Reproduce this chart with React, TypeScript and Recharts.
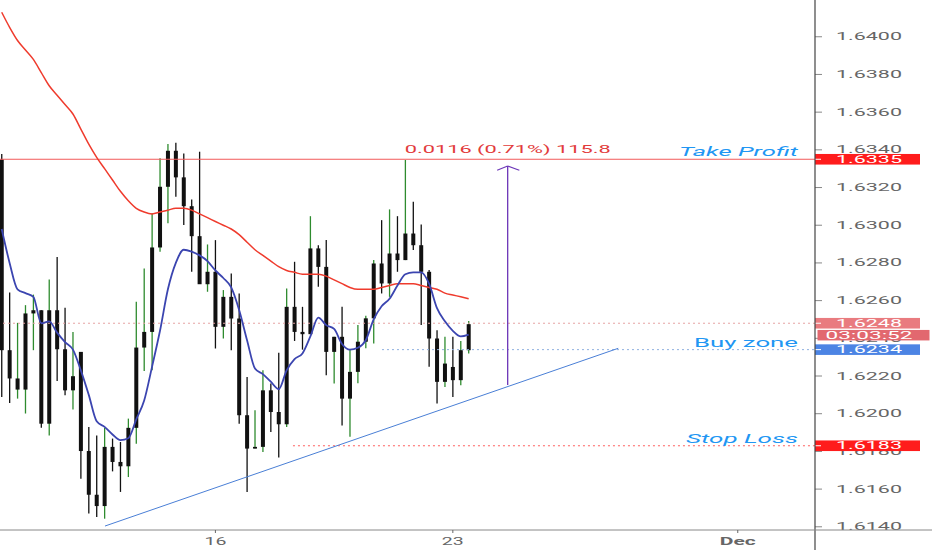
import React from "react";
import {
  ComposedChart,
  Bar,
  Line,
  XAxis,
  YAxis,
  ReferenceLine,
  ReferenceDot,
} from "recharts";

// 4H candles, index 0..59
const opens = [
  1.63349, 1.62337, 1.62128, 1.62128, 1.62532, 1.62549, 1.61947, 1.62549, 1.62342, 1.62124,
  1.62328, 1.61802, 1.6157, 1.6151, 1.61824, 1.61744, 1.61721, 1.61925, 1.62351, 1.62434,
  1.62882, 1.63204, 1.63395, 1.63254, 1.63101, 1.62942, 1.62687, 1.62753, 1.62461, 1.6262,
  1.62505, 1.61992, 1.61815, 1.61824, 1.62124, 1.62009, 1.61944, 1.62567, 1.62434, 1.62422,
  1.62877, 1.62779, 1.62328, 1.62408, 1.6208, 1.62222, 1.62382, 1.62506, 1.62797, 1.62691,
  1.6285, 1.62815, 1.62956, 1.62894, 1.62753, 1.62399, 1.62169, 1.62248, 1.62178, 1.62337,
];
const highs = [
  1.63378, 1.62643, 1.62482, 1.62576, 1.62632, 1.62549, 1.62712, 1.62832, 1.62562, 1.62434,
  1.62328, 1.6193, 1.61885, 1.61925, 1.61868, 1.6185, 1.61974, 1.62594, 1.62771, 1.63063,
  1.63355, 1.63431, 1.63438, 1.63381, 1.63137, 1.6339, 1.62898, 1.62921, 1.62656, 1.62744,
  1.62638, 1.62195, 1.62018, 1.62231, 1.6216, 1.62323, 1.62664, 1.62806, 1.62567, 1.63048,
  1.62894, 1.62921, 1.62408, 1.62567, 1.62338, 1.6247, 1.6252, 1.62815, 1.63027, 1.63084,
  1.63048, 1.63346, 1.63124, 1.63004, 1.62762, 1.62443, 1.62408, 1.62408, 1.62386, 1.62492,
];
const lows = [
  1.62089, 1.62057, 1.6208, 1.62001, 1.62337, 1.61925, 1.61885, 1.62174, 1.62098, 1.62022,
  1.61655, 1.6147, 1.61452, 1.61443, 1.61694, 1.61585, 1.61664, 1.61841, 1.62227, 1.62231,
  1.62859, 1.6301, 1.63151, 1.63001, 1.62753, 1.62691, 1.62647, 1.62346, 1.62399, 1.62337,
  1.61947, 1.61585, 1.61815, 1.61797, 1.61903, 1.61767, 1.6193, 1.62386, 1.6234, 1.62422,
  1.62673, 1.62204, 1.6216, 1.61938, 1.61878, 1.62161, 1.62347, 1.62372, 1.62638, 1.6262,
  1.62753, 1.62815, 1.62868, 1.6247, 1.62249, 1.62054, 1.62142, 1.62089, 1.62151, 1.62319,
];
const closes = [
  1.62337, 1.62187, 1.62187, 1.62532, 1.62549, 1.61947, 1.62549, 1.62342, 1.62124, 1.62199,
  1.61802, 1.6157, 1.6151, 1.61824, 1.61744, 1.61721, 1.61925, 1.62351, 1.62434, 1.62882,
  1.63204, 1.63395, 1.63254, 1.63101, 1.62942, 1.62687, 1.62753, 1.62461, 1.6262, 1.62505,
  1.61992, 1.61815, 1.61824, 1.62124, 1.62009, 1.61944, 1.62567, 1.62434, 1.62422, 1.62877,
  1.62779, 1.62328, 1.62408, 1.6208, 1.62222, 1.62382, 1.62506, 1.62797, 1.62691, 1.6285,
  1.62815, 1.62956, 1.62894, 1.62753, 1.62399, 1.62169, 1.62266, 1.62178, 1.62337, 1.62475,
];
// fast (blue) and slow (red) moving averages
const fastMa = [
  1.6298, 1.628, 1.6266, 1.6264, 1.6262, 1.6248, 1.6249, 1.6243, 1.6238, 1.6234,
  1.6223, 1.621, 1.6196, 1.6193, 1.6189, 1.6186, 1.6187, 1.6197, 1.6207, 1.6225,
  1.6244, 1.6266, 1.628, 1.6287, 1.6286, 1.6284, 1.6281, 1.6276, 1.6272, 1.6267,
  1.6255, 1.6239, 1.6224, 1.6221, 1.6217, 1.6213, 1.6223, 1.6229, 1.6232, 1.6241,
  1.6251, 1.6247, 1.6245, 1.6237, 1.6234, 1.6235, 1.6239, 1.625, 1.6257, 1.6261,
  1.6268, 1.6274, 1.6275, 1.6275, 1.6269, 1.6256, 1.6249, 1.6244, 1.6241, 1.6242,
];
const slowMa = [
  1.6413, 1.6405, 1.6398, 1.6393, 1.6388, 1.6381, 1.6374, 1.6369, 1.6364, 1.6359,
  1.6351, 1.6343, 1.6336, 1.633, 1.6324, 1.6318, 1.6313, 1.6309, 1.6307, 1.6306,
  1.6307, 1.6308, 1.6309, 1.6309, 1.6308, 1.6306, 1.6304, 1.6302, 1.63, 1.6298,
  1.6295, 1.6291, 1.6287, 1.6284, 1.6281, 1.6278, 1.6276, 1.6275, 1.6274, 1.6274,
  1.6274, 1.6273, 1.6271, 1.6269, 1.6267, 1.6266, 1.6266, 1.6266, 1.6267, 1.6268,
  1.6269, 1.6269, 1.6269, 1.6268, 1.6267, 1.6266, 1.6264, 1.6263, 1.6262, 1.6261,
];

const priceTicks = [
  1.614, 1.616, 1.618, 1.62, 1.622, 1.624, 1.626, 1.628, 1.63, 1.632, 1.634, 1.636, 1.638, 1.64,
];
const dateTicks = [27, 57, 93];
const dateLabels = ["16", "23", "Dec"];

const takeProfit = 1.6335;
const lastPrice = 1.6248;
const buyZone = 1.6234;
const stopLoss = 1.6183;
const countdown = "03:03:52";
const measureLabel = "0.0116 (0.71%) 115.8";
const measurePos = { x: 63.93, y: 1.63403 };
const arrowX = 63.93;
const arrowFrom = 1.62152;
const arrowTo = 1.63314;
const arrowWing = { left: 62.6, right: 65.4, y: 1.63292 };
const trendStart = { x: 13.05, y: 1.61404 };
const trendEnd = { x: 77.9, y: 1.62347 };
const buyZoneFrom = 48.05;
const stopLossFrom = 36.8;

const xMin = -0.215;
const xMax = 102.76;
const yMin = 1.61383;
const yMax = 1.64195;

const data = opens.map((o, i) => ({
  i,
  open: o,
  high: highs[i],
  low: lows[i],
  close: closes[i],
  range: [lows[i], highs[i]],
  fast: fastMa[i],
  slow: slowMa[i],
}));

const FONT = "Roboto, sans-serif";
const BLUE_TEXT = "#2196f3";

const Candle = (props: any) => {
  const { x, y, width, height, payload } = props;
  if (!payload) return null;
  const { open, close, high, low } = payload;
  const up = close >= open;
  const cx = x + width / 2;
  const span = high - low || 1e-9;
  const yOf = (p: number) => y + ((high - p) / span) * height;
  const top = yOf(Math.max(open, close));
  const bot = yOf(Math.min(open, close));
  return (
    <g>
      <line x1={cx} x2={cx} y1={y} y2={y + height} stroke={up ? "#2e8b2e" : "#111"} strokeWidth={1.3} />
      <rect x={cx - 2} y={top} width={4} height={Math.max(bot - top, 1.2)} fill="#111" />
    </g>
  );
};

const priceTag = (x: number, y: number, text: string, fill: string) => (
  <g>
    <rect x={x} y={y - 5.3} width={105} height={10.6} fill={fill} />
    <line x1={x} x2={x + 6} y1={y} y2={y} stroke="#fff" />
    <text
      x={x + 21}
      y={y + 3.6}
      fontSize={10}
      fontFamily={FONT}
      fill="#fff"
      textLength={66}
      lengthAdjust="spacingAndGlyphs"
    >
      {text}
    </text>
  </g>
);

const sideText = (right: number, y: number, text: string, width: number, italic: boolean) => (
  <text
    x={right}
    y={y}
    textAnchor="end"
    fontSize={13}
    fontStyle={italic ? "italic" : "normal"}
    fontFamily={FONT}
    fill={BLUE_TEXT}
    textLength={width}
    lengthAdjust="spacingAndGlyphs"
  >
    {text}
  </text>
);

// price scale labels, drawn as reference-line labels so the price tags can sit on top
const PriceTickLabel = (props: any) => {
  const { x, y, width } = props.viewBox;
  const right = x + width;
  return (
    <g>
      <line x1={right} x2={right + 7} y1={y} y2={y} stroke="#888" />
      <text
        x={right + 21}
        y={y + 3.5}
        fontSize={10}
        fontFamily={FONT}
        fill="#666"
        textLength={66}
        lengthAdjust="spacingAndGlyphs"
      >
        {props.text}
      </text>
    </g>
  );
};

const DateTick = (props: any) => {
  const { x, y, payload } = props;
  const label = dateLabels[dateTicks.indexOf(payload.value)];
  const isMonth = label === "Dec";
  return (
    <text
      x={x}
      y={y + 11.5}
      textAnchor="middle"
      fontSize={10}
      fontWeight={isMonth ? "bold" : "normal"}
      fontFamily={FONT}
      fill="#666"
      textLength={isMonth ? 36 : 22}
      lengthAdjust="spacingAndGlyphs"
    >
      {label}
    </text>
  );
};

const FrameLabel = (props: any) => {
  const { x, y, height } = props.viewBox;
  const bottom = y + height;
  return (
    <g>
      <line x1={x} x2={x} y1={bottom} y2={bottom + 20} stroke="#444" strokeWidth={1.2} />
      <line x1={x} x2={x + 117} y1={bottom} y2={bottom} stroke="#888" />
    </g>
  );
};

const TakeProfitLabel = (props: any) => {
  const { x, y, width } = props.viewBox;
  const right = x + width;
  return (
    <g>
      {sideText(right - 17, y - 3.3, "Take Profit", 119, true)}
      {priceTag(right, y, "1.6335", "#ff1c1c")}
    </g>
  );
};

const LastPriceLabel = (props: any) => {
  const { x, y, width } = props.viewBox;
  const right = x + width;
  return (
    <g>
      {priceTag(right, y, "1.6248", "#e97b7f")}
      <rect x={right + 2.5} y={y + 6.7} width={112} height={10.5} fill="#e2686f" />
      <text
        x={right + 10.5}
        y={y + 15.6}
        fontSize={10}
        fontFamily={FONT}
        fill="#fff"
        textLength={87}
        lengthAdjust="spacingAndGlyphs"
      >
        {countdown}
      </text>
    </g>
  );
};

const BuyZoneLabel = (props: any) => {
  const { x, y, width } = props.viewBox;
  const right = x + width;
  return (
    <g>
      {sideText(right - 17, y - 3, "Buy zone", 104, false)}
      {priceTag(right, y, "1.6234", "#4c84e4")}
    </g>
  );
};

const StopLossLabel = (props: any) => {
  const { x, y, width } = props.viewBox;
  const right = x + width;
  return (
    <g>
      {sideText(right - 17, y - 3, "Stop Loss", 112, true)}
      {priceTag(right, y, "1.6183", "#ff1c1c")}
    </g>
  );
};

const MeasureLabel = (props: any) => {
  const { x, y, width, height } = props.viewBox;
  const cx = x + width / 2;
  const cy = y + height / 2;
  return (
    <text
      x={cx}
      y={cy + 4}
      textAnchor="middle"
      fontSize={10.5}
      fontFamily={FONT}
      fill="#e23b3b"
      textLength={206}
      lengthAdjust="spacingAndGlyphs"
    >
      {measureLabel}
    </text>
  );
};

export default function App() {
  return (
    <div
      style={{
        position: "absolute",
        left: 0,
        top: 0,
        width: 932,
        height: 550,
        background: "#fff",
        fontFamily: FONT,
      }}
    >
      <ComposedChart
        width={932}
        height={550}
        data={data}
        margin={{ top: 0, right: 0, bottom: 0, left: 0 }}
      >
        <XAxis
          dataKey="i"
          type="number"
          domain={[xMin, xMax]}
          allowDataOverflow
          ticks={dateTicks}
          height={20}
          stroke="#888"
          tickSize={3}
          tickMargin={0}
          tickLine={{ stroke: "#666" }}
          tick={<DateTick />}
        />
        <YAxis
          orientation="right"
          type="number"
          domain={[yMin, yMax]}
          allowDataOverflow
          ticks={priceTicks}
          width={117}
          axisLine={false}
          tickLine={false}
          tick={false}
        />
        {priceTicks.map((t) => (
          <ReferenceLine
            key={t}
            y={t}
            stroke="none"
            label={<PriceTickLabel text={t.toFixed(4)} />}
          />
        ))}
        <ReferenceLine
          y={lastPrice}
          stroke="#e6a3a3"
          strokeDasharray="2 3"
          label={<LastPriceLabel />}
        />
        <ReferenceLine
          segment={[
            { x: buyZoneFrom, y: buyZone },
            { x: xMax, y: buyZone },
          ]}
          stroke="#8fb0e0"
          strokeDasharray="2 3"
          label={<BuyZoneLabel />}
        />
        <ReferenceLine
          segment={[
            { x: stopLossFrom, y: stopLoss },
            { x: xMax, y: stopLoss },
          ]}
          stroke="#ff6060"
          strokeDasharray="2 3"
          label={<StopLossLabel />}
        />
        <ReferenceLine y={takeProfit} stroke="#f25a5a" label={<TakeProfitLabel />} />
        <ReferenceLine segment={[trendStart, trendEnd]} stroke="#4a7fd6" strokeWidth={1} />
        <Bar dataKey="range" shape={<Candle />} barSize={4} isAnimationActive={false} />
        <Line
          dataKey="slow"
          type="monotone"
          stroke="#ef3b2d"
          strokeWidth={1.5}
          dot={false}
          activeDot={false}
          isAnimationActive={false}
        />
        <Line
          dataKey="fast"
          type="monotone"
          stroke="#3b45b0"
          strokeWidth={1.8}
          dot={false}
          activeDot={false}
          isAnimationActive={false}
        />
        <ReferenceLine
          segment={[
            { x: arrowX, y: arrowFrom },
            { x: arrowX, y: arrowTo },
          ]}
          stroke="#6c36b8"
          strokeWidth={1.3}
        />
        <ReferenceLine
          segment={[
            { x: arrowWing.left, y: arrowWing.y },
            { x: arrowX, y: arrowTo },
          ]}
          stroke="#6c36b8"
          strokeWidth={1.2}
        />
        <ReferenceLine
          segment={[
            { x: arrowX, y: arrowTo },
            { x: arrowWing.right, y: arrowWing.y },
          ]}
          stroke="#6c36b8"
          strokeWidth={1.2}
        />
        <ReferenceDot
          x={measurePos.x}
          y={measurePos.y}
          r={1}
          fill="none"
          stroke="none"
          label={<MeasureLabel />}
        />
        <ReferenceLine x={xMax} stroke="#444" strokeWidth={1.2} label={<FrameLabel />} />
      </ComposedChart>
    </div>
  );
}
